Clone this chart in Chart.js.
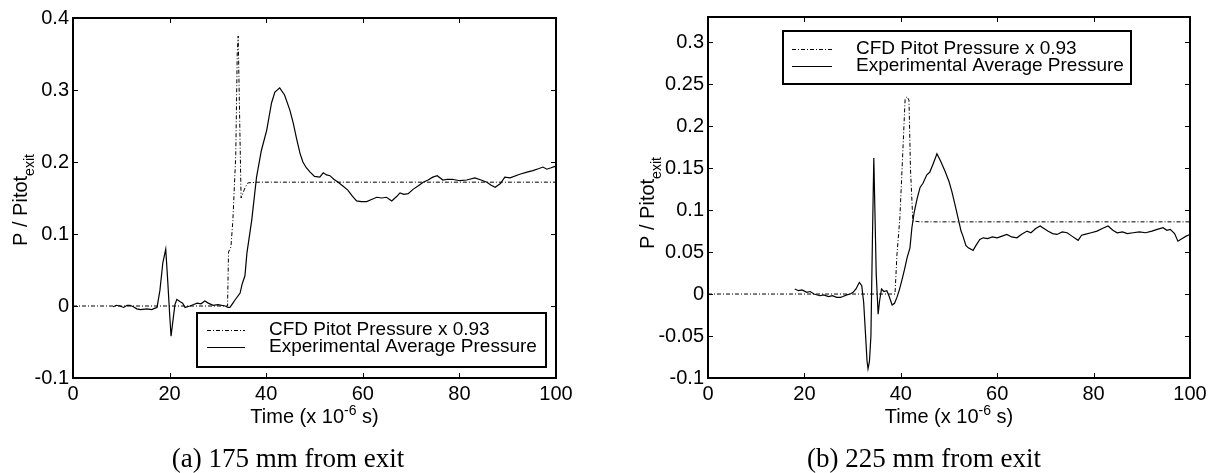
<!DOCTYPE html>
<html>
<head>
<meta charset="utf-8">
<script src="https://cdn.jsdelivr.net/npm/chart.js@4.4.0/dist/chart.umd.min.js"></script>
<style>
  body { margin: 0; background: #fff; width: 1213px; height: 473px; overflow: hidden; }
  canvas { position: absolute; top: 0; }
  #chartA { left: 0; }
  #chartB { left: 606px; }
</style>
</head>
<body>
<canvas id="chartA" width="606" height="473"></canvas>
<canvas id="chartB" width="607" height="473"></canvas>
<script>
// tick values
const xTicks = [0, 20, 40, 60, 80, 100];
const leftYTicks = [-0.1, 0, 0.1, 0.2, 0.3, 0.4];
const rightYTicks = [-0.1, -0.05, 0, 0.05, 0.1, 0.15, 0.2, 0.25, 0.3];

// (a) 175 mm from exit
const leftCfdTime = [0, 32.0, 32.2, 32.7, 33.1, 33.7, 34.0, 34.2, 34.4, 34.8, 35.6, 36.2, 38.3, 100];
const leftCfdP = [0, 0, 0.075, 0.082, 0.119, 0.21, 0.35, 0.375, 0.3, 0.15, 0.164, 0.171, 0.172, 0.172];

const leftExpTime = [8.3, 9.0, 9.7, 10.5, 11.2, 11.8, 12.5, 13.2, 14.0, 15.3, 16.3, 17.0, 17.4, 18.0, 18.6, 19.2, 19.6, 20.0, 20.3, 20.7,
  21.1, 21.5, 22.2, 22.7, 23.2, 24.2, 25.0, 25.7, 26.5, 27.3, 28.0, 29.0, 30.0, 31.5, 32.1, 32.5, 33.1, 33.5, 34.6, 35.0,
  35.6, 36.0, 37.0, 38.0, 39.0, 40.1, 41.1, 41.8, 42.8, 43.8, 44.9, 45.6, 46.3, 47.0, 47.6, 48.3, 49.1, 50.0, 51.1, 51.8,
  52.5, 53.2, 54.0, 54.9, 56.0, 56.9, 57.8, 58.7, 59.7, 60.8, 61.8, 62.9, 63.9, 64.9, 66.0, 67.0, 67.7, 68.5, 69.4, 70.4,
  71.5, 72.5, 73.5, 74.5, 75.4, 76.6, 77.5, 78.5, 80.1, 81.5, 83.2, 84.5, 85.7, 86.5, 87.4, 88.5, 89.4, 90.5, 92.5, 94.0,
  95.2, 96.5, 97.3, 98.1, 99.0, 99.8];
const leftExpP = [-0.001, 0.001, 0.0, -0.002, 0.001, 0.001, -0.001, -0.004, -0.005, -0.004, -0.005, -0.003, -0.002, 0.022, 0.06, 0.079, 0.036, -0.01, -0.042, -0.02,
  0.002, 0.009, 0.006, 0.004, -0.002, 0.0, 0.002, 0.004, 0.003, 0.007, 0.004, 0.001, 0.002, 0.0, -0.002, -0.002, 0.004, 0.008, 0.018, 0.03,
  0.042, 0.073, 0.119, 0.179, 0.216, 0.244, 0.282, 0.297, 0.303, 0.293, 0.272, 0.254, 0.232, 0.212, 0.2, 0.192, 0.186, 0.18, 0.179, 0.185,
  0.182, 0.181, 0.176, 0.172, 0.166, 0.161, 0.153, 0.146, 0.145, 0.145, 0.148, 0.151, 0.15, 0.151, 0.146, 0.152, 0.157, 0.155, 0.156, 0.162,
  0.167, 0.172, 0.175, 0.179, 0.181, 0.175, 0.176, 0.176, 0.174, 0.175, 0.178, 0.175, 0.172, 0.168, 0.165, 0.17, 0.179, 0.178, 0.183, 0.186,
  0.188, 0.191, 0.193, 0.19, 0.192, 0.194];

// (b) 225 mm from exit
const rightCfdTime = [0, 38.8, 39.2, 39.8, 40.5, 40.9, 41.3, 41.7, 42.0, 42.5, 44.0, 100];
const rightCfdP = [0, 0, 0.047, 0.09, 0.18, 0.233, 0.235, 0.231, 0.15, 0.087, 0.086, 0.086];

const rightExpTime = [18.0, 18.8, 19.5, 20.5, 21.2, 22.0, 23.2, 24.0, 25.0, 25.8, 26.7, 27.5, 28.0, 28.8, 29.5, 30.1, 30.7, 31.4, 31.9, 32.3,
  32.6, 33.0, 33.2, 33.5, 33.8, 34.1, 34.4, 34.7, 34.9, 35.3, 35.6, 36.0, 36.5, 37.1, 37.6, 38.2, 38.7, 39.2, 39.7, 40.2,
  40.8, 41.3, 41.9, 42.3, 42.8, 43.4, 44.0, 44.6, 45.4, 46.0, 46.7, 47.5, 48.3, 49.2, 50.0, 50.6, 51.3, 51.9, 52.5, 52.9,
  53.5, 54.0, 55.0, 55.6, 56.4, 57.1, 58.0, 59.0, 60.0, 61.0, 62.0, 63.0, 64.1, 65.0, 66.2, 67.0, 68.0, 68.9, 69.7, 70.5,
  71.5, 72.4, 73.5, 74.5, 75.5, 76.8, 77.5, 78.2, 79.5, 80.7, 81.8, 83.0, 84.0, 84.9, 86.0, 87.0, 88.2, 89.5, 90.8, 92.1,
  93.2, 94.4, 95.2, 95.9, 96.8, 97.5, 98.3, 99.2, 100];
const rightExpP = [0.006, 0.004, 0.005, 0.002, 0.003, 0.0, -0.002, -0.001, -0.003, -0.002, -0.004, -0.004, -0.003, -0.001, 0.0, 0.002, 0.006, 0.014, 0.01, -0.01,
  -0.04, -0.08, -0.089, -0.08, -0.05, 0.06, 0.162, 0.08, 0.024, -0.024, -0.008, 0.006, 0.003, 0.004, -0.003, -0.013, -0.011, -0.004, 0.005, 0.016,
  0.03, 0.043, 0.055, 0.079, 0.098, 0.114, 0.127, 0.132, 0.142, 0.145, 0.155, 0.167, 0.158, 0.146, 0.134, 0.122, 0.105, 0.09, 0.075, 0.069,
  0.058, 0.055, 0.052, 0.058, 0.065, 0.067, 0.066, 0.068, 0.067, 0.069, 0.071, 0.068, 0.067, 0.071, 0.075, 0.073, 0.078, 0.081, 0.078, 0.075,
  0.072, 0.071, 0.074, 0.073, 0.069, 0.064, 0.07, 0.071, 0.073, 0.075, 0.078, 0.081, 0.076, 0.073, 0.074, 0.072, 0.073, 0.074, 0.073, 0.075,
  0.077, 0.079, 0.076, 0.077, 0.072, 0.063, 0.066, 0.069, 0.071];

const cfdLabel = 'CFD Pitot Pressure x 0.93';
const expLabel = 'Experimental Average Pressure';

const SANS = '"Liberation Sans", Arial, Helvetica, sans-serif';
const SERIF = '"Liberation Serif", "Times New Roman", serif';

Chart.defaults.color = '#000';

function toPoints(xs, ys) {
    return xs.map((x, i) => ({ x: x, y: ys[i] }));
}

// matlab-ish frame, inward ticks, legend and titles
const framePlugin = {
    id: 'matlabFrame',
    afterDraw(chart, args, opts) {
        const c = chart.ctx;
        const a = chart.chartArea;
        const xs = chart.scales.x;
        const ys = chart.scales.y;
        c.save();
        c.strokeStyle = '#000';
        c.lineWidth = 1;

        // inward ticks on all 4 sides
        c.beginPath();
        xTicks.forEach(v => {
            const px = Math.round(xs.getPixelForValue(v)) + 0.5;
            c.moveTo(px, a.bottom); c.lineTo(px, a.bottom - 5);
            c.moveTo(px, a.top); c.lineTo(px, a.top + 5);
        });
        opts.yTicks.forEach(v => {
            const py = Math.round(ys.getPixelForValue(v)) + 0.5;
            c.moveTo(a.left, py); c.lineTo(a.left + 5, py);
            c.moveTo(a.right, py); c.lineTo(a.right - 5, py);
        });
        c.stroke();

        c.lineWidth = 2;
        c.strokeRect(a.left, a.top, a.right - a.left, a.bottom - a.top);

        // legend
        const lg = opts.legend;
        c.fillStyle = '#fff';
        c.fillRect(lg.x, lg.y, lg.w, lg.h);
        c.strokeRect(lg.x, lg.y, lg.w, lg.h);
        c.fillStyle = '#000';
        c.font = '19px ' + SANS;
        c.textBaseline = 'middle';
        c.textAlign = 'left';
        chart.data.datasets.forEach((ds, i) => {
            const ry = lg.rows[i] + 0.5;
            c.lineWidth = ds.borderWidth;
            c.setLineDash(ds.borderDash || []);
            c.beginPath();
            c.moveTo(lg.sx0, ry); c.lineTo(lg.sx1, ry);
            c.stroke();
            c.setLineDash([]);
            c.fillText(ds.label, lg.tx, lg.rows[i]);
        });

        // x axis title with superscript
        c.textBaseline = 'alphabetic';
        const p1 = 'Time (x 10', sup = '-6', p2 = ' s)';
        c.font = '20px ' + SANS;
        const w1 = c.measureText(p1).width, w3 = c.measureText(p2).width;
        c.font = '14px ' + SANS;
        const w2 = c.measureText(sup).width;
        let tx = (a.left + a.right) / 2 - (w1 + w2 + w3) / 2;
        c.font = '20px ' + SANS;
        c.fillText(p1, tx, 423);
        c.font = '14px ' + SANS;
        c.fillText(sup, tx + w1, 415);
        c.font = '20px ' + SANS;
        c.fillText(p2, tx + w1 + w2, 423);

        // y axis title with subscript
        c.save();
        c.translate(opts.yTitleX, opts.yTitleY);
        c.rotate(-Math.PI / 2);
        const m = 'P / Pitot', sub = 'exit';
        c.font = '20px ' + SANS;
        const wm = c.measureText(m).width;
        c.font = '14px ' + SANS;
        const ws = c.measureText(sub).width;
        const sx = -(wm + ws) / 2;
        c.font = '20px ' + SANS;
        c.fillText(m, sx, 0);
        c.font = '14px ' + SANS;
        c.fillText(sub, sx + wm, 7);
        c.restore();

        // caption
        c.font = '27px ' + SERIF;
        c.textAlign = 'center';
        c.fillText(opts.caption, opts.captionX, 467);
        c.restore();
    }
};

function makeChart(canvasId, cfg) {
    return new Chart(document.getElementById(canvasId), {
        type: 'line',
        data: {
            datasets: [
                {
                    label: cfdLabel,
                    data: toPoints(cfg.cfdTime, cfg.cfdP),
                    borderColor: '#000',
                    borderWidth: 1,
                    borderDash: [4, 2, 1, 2],
                    pointRadius: 0,
                    tension: 0
                },
                {
                    label: expLabel,
                    data: toPoints(cfg.expTime, cfg.expP),
                    borderColor: '#000',
                    borderWidth: 1.2,
                    pointRadius: 0,
                    tension: 0
                }
            ]
        },
        options: {
            responsive: false,
            animation: false,
            devicePixelRatio: 1,
            layout: { padding: { top: cfg.top, right: cfg.right, left: 0, bottom: 0 } },
            plugins: {
                legend: { display: false },
                tooltip: { enabled: false },
                matlabFrame: cfg
            },
            scales: {
                x: {
                    type: 'linear',
                    min: 0,
                    max: 100,
                    afterBuildTicks: s => { s.ticks = xTicks.map(v => ({ value: v })); },
                    afterFit: s => { s.height = 95; },
                    ticks: {
                        color: '#000',
                        font: { family: SANS, size: 20 },
                        padding: 4,
                        maxRotation: 0,
                        autoSkip: false,
                        callback: v => String(v)
                    },
                    grid: { display: false, drawTicks: false },
                    border: { display: false }
                },
                y: {
                    type: 'linear',
                    min: cfg.yMin,
                    max: cfg.yMax,
                    afterBuildTicks: s => { s.ticks = cfg.yTicks.map(v => ({ value: v })); },
                    afterFit: s => { s.width = cfg.yWidth; },
                    ticks: {
                        color: '#000',
                        font: { family: SANS, size: 20 },
                        padding: 4,
                        autoSkip: false,
                        callback: v => String(v)
                    },
                    grid: { display: false, drawTicks: false },
                    border: { display: false }
                }
            }
        },
        plugins: [framePlugin]
    });
}

makeChart('chartA', {
    cfdTime: leftCfdTime, cfdP: leftCfdP,
    expTime: leftExpTime, expP: leftExpP,
    yMin: -0.1, yMax: 0.4, yTicks: leftYTicks,
    top: 18, right: 50, yWidth: 73,
    legend: { x: 197, y: 313, w: 349, h: 54, sx0: 207, sx1: 245, tx: 269, rows: [330, 347] },
    yTitleX: 27, yTitleY: 200,
    caption: '(a) 175 mm from exit', captionX: 288
});

makeChart('chartB', {
    cfdTime: rightCfdTime, cfdP: rightCfdP,
    expTime: rightExpTime, expP: rightExpP,
    yMin: -0.1, yMax: 0.33, yTicks: rightYTicks,
    top: 17, right: 23, yWidth: 102,
    legend: { x: 177, y: 31, w: 348, h: 53, sx0: 186, sx1: 226, tx: 250, rows: [49, 66] },
    yTitleX: 48, yTitleY: 203,
    caption: '(b) 225 mm from exit', captionX: 318
});
</script>
</body>
</html>
